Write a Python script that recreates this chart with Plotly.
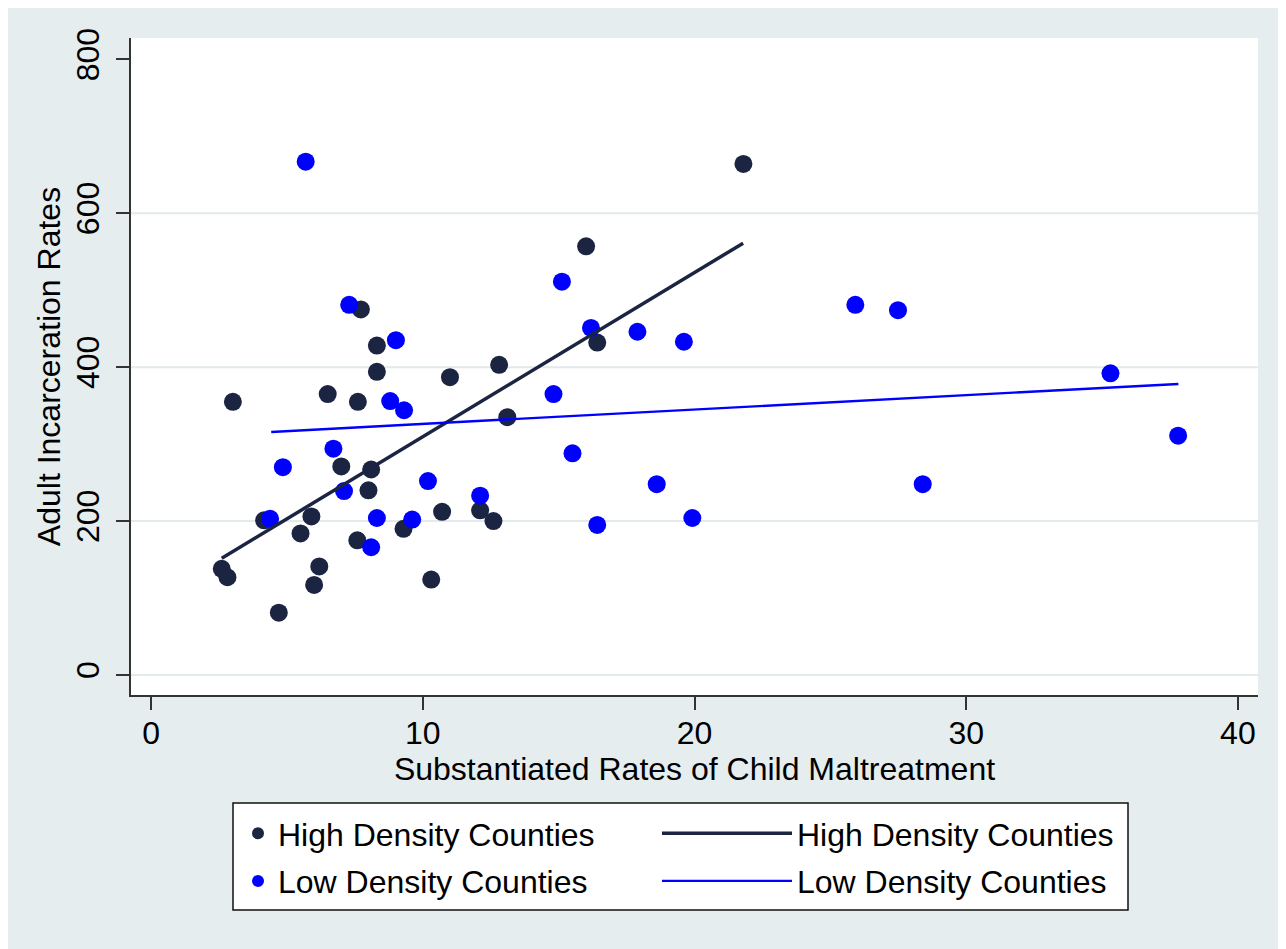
import plotly.graph_objects as go

# ---- data ----
high_x = [2.60, 2.81, 3.01, 4.70, 5.50, 5.90, 6.00, 6.19, 6.50, 7.00, 7.61, 7.59, 7.72, 8.00,
          8.10, 8.31, 8.31, 9.29, 10.31, 10.71, 11.00, 12.11, 12.60, 12.81, 13.11, 16.01,
          16.42, 21.80, 4.16]
high_y = [138, 127, 355, 81, 184, 206, 117, 141, 365, 271, 355, 175, 475, 240,
          267, 428, 394, 190, 124, 212, 387, 214, 200, 403, 335, 557,
          432, 664, 201]

low_x = [5.69, 7.29, 9.01, 8.80, 9.31, 6.71, 4.85, 7.10, 4.38, 8.31, 9.61, 8.10, 10.19, 12.11,
         14.81, 15.12, 16.19, 17.90, 19.61, 15.51, 16.42, 18.61, 19.92, 25.92, 27.49, 28.40,
         35.31, 37.80]
low_y = [667, 481, 435, 356, 344, 294, 270, 239, 203, 204, 202, 166, 252, 233,
         365, 511, 451, 446, 433, 288, 195, 248, 204, 481, 474, 248,
         392, 311]

# fitted lines (end points)
high_fit_x = [2.60, 21.79]
high_fit_y = [151.7, 561.1]
low_fit_x = [4.42, 37.81]
low_fit_y = [315.8, 378.2]

x_ticks = [0, 10, 20, 30, 40]
y_ticks = [0, 200, 400, 600, 800]
grid_vals = [0, 200, 400, 600]

x_title = "Substantiated Rates of Child Maltreatment"
y_title = "Adult Incarceration Rates"
high_name = "High Density Counties"
low_name = "Low Density Counties"

# ---- style ----
NAVY = "#1b2542"
BLUE = "#0000ff"
BG = "#e6edef"
GRID = "#e2eaec"
AXIS = "#333333"
FONT = "Liberation Sans, Arial, Helvetica, sans-serif"
FS = 32

fig = go.Figure()
fig.add_trace(go.Scatter(x=high_x, y=high_y, mode="markers", name=high_name,
                         marker=dict(color=NAVY, size=18), legend="legend", legendgroup="a"))
fig.add_trace(go.Scatter(x=low_x, y=low_y, mode="markers", name=low_name,
                         marker=dict(color=BLUE, size=18), legend="legend", legendgroup="b"))
fig.add_trace(go.Scatter(x=high_fit_x, y=high_fit_y, mode="lines", name=high_name,
                         line=dict(color=NAVY, width=3.5), legend="legend2", legendgroup="c"))
fig.add_trace(go.Scatter(x=low_fit_x, y=low_fit_y, mode="lines", name=low_name,
                         line=dict(color=BLUE, width=2.4), legend="legend2", legendgroup="d"))

# page has an 8px body margin: figure occupies screen pixels 8..1286 / 8..949
OFF = 8
W, H = 1286 - OFF, 949 - OFF
L, R, T, B = 131 - OFF, 28, 38 - OFF, 254
pw, ph = W - L - R, H - T - B


def px(x):  # screen pixel -> paper
    return (x - OFF - L) / pw


def py(y):
    return (H - B - (y - OFF)) / ph


shapes = []
for g in grid_vals:
    shapes.append(dict(type="line", xref="paper", yref="y", x0=0, x1=1, y0=g, y1=g,
                       line=dict(color=GRID, width=2), layer="below"))
# legend box
shapes.append(dict(type="rect", xref="paper", yref="paper",
                   x0=px(233), x1=px(1128), y0=py(910), y1=py(803),
                   fillcolor="white", line=dict(color="#111111", width=1.5), layer="below"))

fig.update_layout(
    width=W, height=H,
    margin=dict(l=L, r=R, t=T, b=B, autoexpand=False),
    paper_bgcolor=BG, plot_bgcolor="white",
    font=dict(family=FONT, size=FS, color="black"),
    shapes=shapes,
    legend=dict(x=px(238), y=py(806), xanchor="left", yanchor="top",
                bgcolor="rgba(0,0,0,0)", font=dict(size=FS), itemsizing="constant",
                traceorder="grouped", tracegroupgap=3, itemwidth=30),
    legend2=dict(x=px(657), y=py(806), xanchor="left", yanchor="top",
                 bgcolor="rgba(0,0,0,0)", font=dict(size=FS),
                 traceorder="grouped", tracegroupgap=3, itemwidth=130),
    xaxis=dict(range=[-0.74, 40.74], tickvals=x_ticks, ticks="outside", ticklen=13,
               tickwidth=1.5, tickcolor=AXIS, showline=True, linecolor=AXIS, linewidth=1.5,
               showgrid=False, zeroline=False, ticklabelstandoff=-4,
               title=dict(text=x_title, standoff=5, font=dict(size=FS))),
    yaxis=dict(range=[-26, 827.7], tickvals=y_ticks, ticks="outside", ticklen=13,
               tickwidth=1.5, tickcolor=AXIS, showline=True, linecolor=AXIS, linewidth=1.5,
               showgrid=False, zeroline=False, tickangle=-90, ticklabelstandoff=4,
               title=dict(text=y_title, standoff=0, font=dict(size=FS))),
)

fig.write_html("out.html")
